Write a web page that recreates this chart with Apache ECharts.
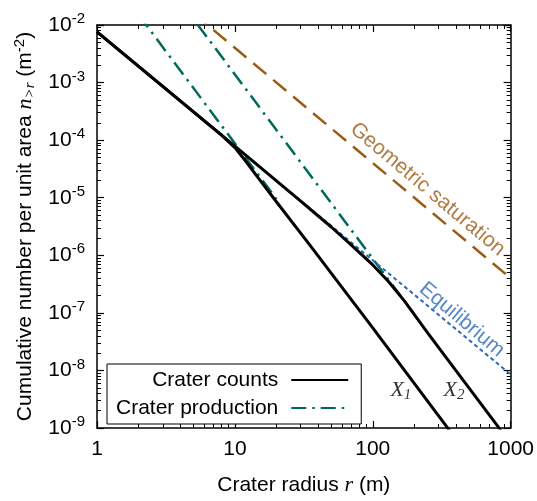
<!DOCTYPE html>
<html><head><meta charset="utf-8">
<script src="https://cdn.jsdelivr.net/npm/echarts@6/dist/echarts.min.js"></script>
<style>html,body{margin:0;padding:0;background:#fff}#c{width:537px;height:501px}</style>
</head><body><div id="c"></div>
<script>
// ---- data (crater radius r in m, density n>r in m^-2) ----
const countsX1R = [1, 8, 10, 12, 15, 20, 35, 100, 170, 360];
const countsX1N = [7.6e-3, 1.22e-4, 7.4e-5, 4.3e-5, 2.1e-5, 8.5e-6, 1.5e-6, 5.5e-8, 1.0e-8, 9.1e-10];
const countsX2R = [1, 10, 30, 50, 70, 100, 130, 170, 250, 400, 850];
const countsX2N = [7.6e-3, 7.9e-5, 8.7e-6, 3.1e-6, 1.5e-6, 6.8e-7, 3.5e-7, 1.6e-7, 4.5e-8, 1.0e-8, 9.1e-10];
const production1R = [1.5, 20];
const production1N = [3.8e-2, 9.5e-6];
const production2R = [4, 200];
const production2N = [2.6e-2, 9.5e-8];
const equilibriumR = [1, 1000];
const equilibriumN = [7.6e-3, 8.5e-9];
const saturationR = [5, 1000];
const saturationN = [1.6e-2, 4.0e-7];
// annotation anchors (data coordinates)
const annotations = [
  {name: 'Geometric saturation', r: 250, n: 1.4e-5},
  {name: 'Equilibrium', r: 442, n: 7.6e-8},
  {name: 'X1', r: 160, n: 4.5e-9},
  {name: 'X2', r: 388, n: 4.5e-9}
];
// axis ranges (decades)
const xRange = [1, 1000];
const yRange = [1e-9, 1e-2];

const FONT = "'Liberation Sans', Arial, Helvetica, sans-serif";
const SERIF = "'Liberation Serif', 'Times New Roman', serif";
const BLACK = '#000000', TEAL = '#00695c', BLUE = '#2a6ab5', BROWN = '#9c5b14';
const FS = 21;
const pairs = (xs, ys) => xs.map((x, i) => [x, ys[i]]);

function logAxis(range, pos, extra) {
  return Object.assign({
    type: 'log', logBase: 10, min: range[0], max: range[1], position: pos,
    axisLine: {show: true, onZero: false, lineStyle: {color: '#000', width: 1.5}},
    axisTick: {show: true, inside: true, length: 7, lineStyle: {color: '#000', width: 1.2}},
    minorTick: {show: true, splitNumber: 9, length: 4, lineStyle: {color: '#000', width: 1}},
    axisLabel: {show: false},
    splitLine: {show: false}, minorSplitLine: {show: false}
  }, extra || {});
}

const chart = echarts.init(document.getElementById('c'), null, {renderer: 'canvas'});
chart.setOption({
  animation: false,
  textStyle: {fontFamily: FONT},
  grid: {left: 97, right: 25, top: 25, bottom: 61},
  xAxis: [
    logAxis(xRange, 'bottom', {
      axisLabel: {show: true, fontSize: FS, color: '#000', fontFamily: FONT, margin: 11,
        formatter: v => String(Math.round(v))},
      name: 'Crater radius {i|r} (m)', nameLocation: 'middle', nameGap: 46,
      nameTextStyle: {fontSize: FS, color: '#000', fontFamily: FONT,
        rich: {i: {fontSize: FS + 1, fontFamily: SERIF, fontStyle: 'italic', color: '#000'}}}
    }),
    logAxis(xRange, 'top')
  ],
  yAxis: [
    logAxis(yRange, 'left', {
      axisLabel: {show: true, color: '#000', margin: 12,
        formatter: v => '{b|10}{s|' + Math.round(Math.log10(v)) + '}',
        rich: {b: {fontSize: FS, fontFamily: FONT, color: '#000'},
               s: {fontSize: 15, fontFamily: FONT, color: '#000', padding: [0, 0, 12, 0]}}},
      name: 'Cumulative number per unit area {i|n}{sub|>r} (m{sup|-2})', nameLocation: 'middle', nameGap: 58, nameRotate: 90,
      nameTextStyle: {fontSize: FS, color: '#000', fontFamily: FONT,
        rich: {i: {fontSize: FS + 1, fontFamily: SERIF, fontStyle: 'italic', color: '#000'},
               sub: {fontSize: 15, fontFamily: SERIF, fontStyle: 'italic', color: '#000', padding: [10, 0, 0, 0]},
               sup: {fontSize: 15, fontFamily: FONT, color: '#000', padding: [0, 0, 11, 0]}}}
    }),
    logAxis(yRange, 'right')
  ],
  legend: {
    data: ['Crater counts', 'Crater production'],
    orient: 'vertical', left: 107, top: 364, align: 'right',
    itemWidth: 57, itemHeight: 14, itemGap: 6,
    padding: [5, 12, 5, 9],
    backgroundColor: '#fff', borderColor: '#000', borderWidth: 1, borderRadius: 0,
    itemStyle: {opacity: 0},
    textStyle: {fontSize: FS, color: '#000', fontFamily: FONT, width: 162, lineHeight: 22, padding: [0, 8, 0, 0]},
    selectedMode: false
  },
  series: [
    {name: 'Geometric saturation', type: 'line', data: pairs(saturationR, saturationN), symbol: 'none', z: 2,
      lineStyle: {color: BROWN, width: 2.5, type: [17, 9]}},
    {name: 'Crater production', type: 'line', data: pairs(production1R, production1N), symbol: 'none', z: 3,
      lineStyle: {color: TEAL, width: 2.5, type: [15, 6, 2.5, 6]}, itemStyle: {color: TEAL}},
    {name: 'Crater production', type: 'line', data: pairs(production2R, production2N), symbol: 'none', z: 3,
      lineStyle: {color: TEAL, width: 2.5, type: [15, 6, 2.5, 6]}, itemStyle: {color: TEAL}},
    {name: 'Equilibrium', type: 'line', data: pairs(equilibriumR, equilibriumN), symbol: 'none', z: 4,
      lineStyle: {color: BLUE, width: 2, type: [4, 3]}},
    {name: 'Crater counts', type: 'line', data: pairs(countsX1R, countsX1N), symbol: 'none', z: 5,
      lineStyle: {color: BLACK, width: 3}, itemStyle: {color: BLACK}},
    {name: 'Crater counts', type: 'line', data: pairs(countsX2R, countsX2N), symbol: 'none', z: 5,
      lineStyle: {color: BLACK, width: 3}, itemStyle: {color: BLACK}},
    {name: 'labels', type: 'scatter', symbolSize: 0, z: 6, silent: true,
      data: annotations.map(a => ({name: a.name, value: [a.r, a.n],
        label: {rotate: (a.name === 'Geometric saturation' || a.name === 'Equilibrium') ? -40 : 0}})),
      label: {show: true, position: 'inside', fontFamily: FONT,
        formatter: p => {
          if (p.name === 'X1') return '{x|X}{s|1}';
          if (p.name === 'X2') return '{x|X}{s|2}';
          return p.name === 'Equilibrium' ? '{e|Equilibrium}' : '{g|Geometric saturation}';
        },
        rich: {
          x: {fontSize: FS + 1, fontFamily: SERIF, fontStyle: 'italic', color: '#000'},
          s: {fontSize: 15, fontFamily: SERIF, fontStyle: 'italic', color: '#000', padding: [10, 0, 0, 0]},
          e: {fontSize: FS, fontFamily: FONT, color: BLUE},
          g: {fontSize: FS, fontFamily: FONT, color: BROWN}
        }
      }
    }
  ]
});
</script></body></html>
